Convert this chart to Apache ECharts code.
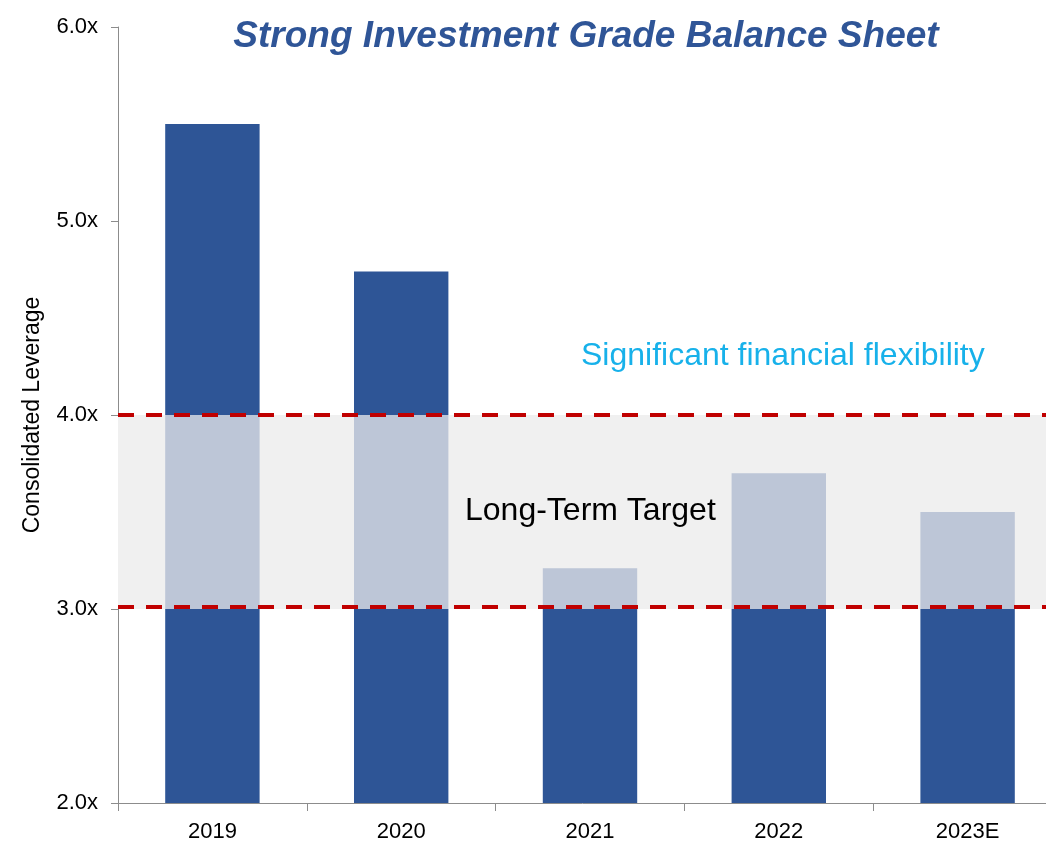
<!DOCTYPE html>
<html>
<head>
<meta charset="utf-8">
<script src="https://cdn.jsdelivr.net/npm/echarts@6/dist/echarts.min.js"></script>
<style>html,body{margin:0;padding:0;background:#fff}#c{width:1046px;height:841px}</style>
</head>
<body>
<div id="c"></div>
<script>
const categories = ['2019', '2020', '2021', '2022', '2023E'];
const leverage = [5.5, 4.74, 3.21, 3.70, 3.50];
const targetLow = 3.0;
const targetHigh = 4.0;
const yTicks = [2, 3, 4, 5, 6];

const below = leverage.map(v => Math.min(v, targetLow));
const within = leverage.map(v => Math.max(0, Math.min(v, targetHigh) - targetLow));
const above = leverage.map(v => Math.max(0, v - targetHigh));

const FONT = 'Liberation Sans, Arial, sans-serif';
const DARK = '#2E5596';
const LIGHT = '#BDC6D7';

const chart = echarts.init(document.getElementById('c'), null, {renderer: 'canvas'});
chart.setOption({
  animation: false,
  backgroundColor: '#fff',
  title: {
    text: 'Strong Investment Grade Balance Sheet',
    left: 581, top: 13, textAlign: 'center',
    textStyle: {fontFamily: FONT, fontSize: 37, fontWeight: 'bold', fontStyle: 'italic', color: '#2F5597'}
  },
  grid: {left: 118, top: 27, bottom: 38, width: 944, containLabel: false, outerBoundsMode: 'none'},
  xAxis: {
    type: 'category', data: categories,
    axisLine: {lineStyle: {color: '#8c8c8c', width: 1}},
    axisTick: {show: true, length: 8, lineStyle: {color: '#8c8c8c'}},
    axisLabel: {fontFamily: FONT, fontSize: 22, color: '#000', margin: 18}
  },
  yAxis: {
    type: 'value', min: yTicks[0], max: yTicks[yTicks.length - 1], interval: 1,
    name: 'Consolidated Leverage', nameLocation: 'middle', nameGap: 74, nameRotate: 90,
    nameTextStyle: {fontFamily: FONT, fontSize: 23, color: '#000'},
    axisLine: {show: true, lineStyle: {color: '#8c8c8c', width: 1}},
    axisTick: {show: true, length: 7, lineStyle: {color: '#8c8c8c'}},
    splitLine: {show: false},
    axisLabel: {fontFamily: FONT, fontSize: 22, color: '#000', margin: 20,
      formatter: v => v.toFixed(1) + 'x'}
  },
  series: [
    {
      type: 'line', data: [], z: 1, silent: true,
      markArea: {silent: true, itemStyle: {color: '#F0F0F0'},
        data: [[{yAxis: targetLow}, {yAxis: targetHigh}]]}
    },
    {type: 'bar', stack: 'lev', data: below, barWidth: '50%', z: 2, itemStyle: {color: DARK}},
    {type: 'bar', stack: 'lev', data: within, barWidth: '50%', z: 2, itemStyle: {color: LIGHT}},
    {type: 'bar', stack: 'lev', data: above, barWidth: '50%', z: 2, itemStyle: {color: DARK}},
    {
      type: 'line', data: [], z: 5, silent: true,
      markLine: {silent: true, symbol: 'none', label: {show: false},
        lineStyle: {color: '#C00000', width: 4, type: [16, 12]},
        data: [{yAxis: targetHigh}, {yAxis: targetLow + 0.01}]}
    }
  ],
  graphic: [
    {type: 'text', left: 581, top: 340, z: 10,
      style: {text: 'Significant financial flexibility', fontFamily: FONT, fontSize: 32, fill: '#17B1EA'}},
    {type: 'text', left: 465, top: 495, z: 10,
      style: {text: 'Long-Term Target', fontFamily: FONT, fontSize: 32, fill: '#000'}}
  ]
});
</script>
</body>
</html>
